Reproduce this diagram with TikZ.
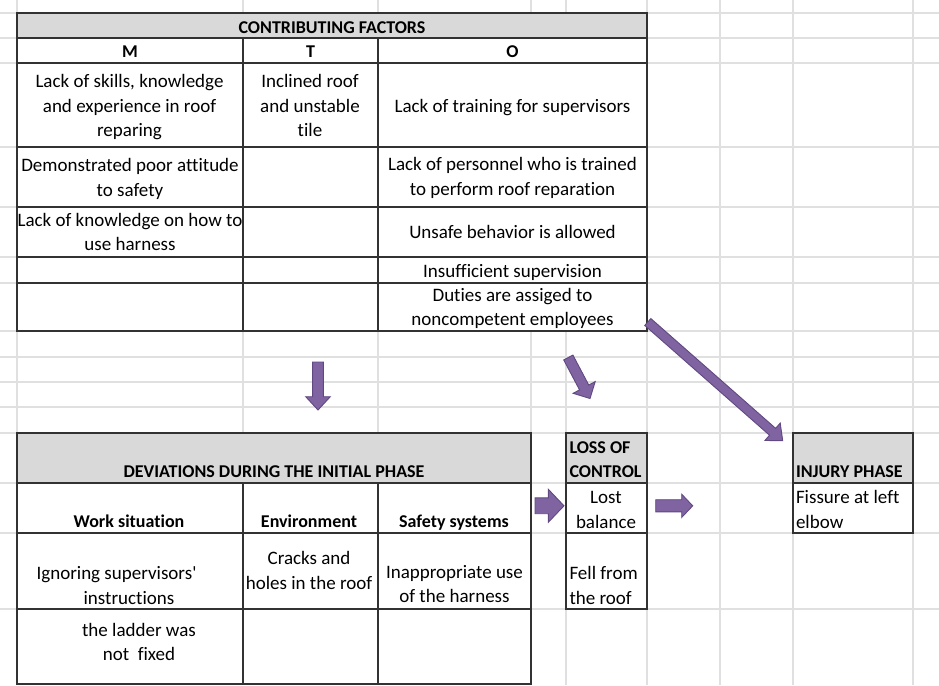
\documentclass[tikz,border=0pt]{standalone}
\usepackage{fontspec}
\setmainfont{Carlito}[Ligatures={TeXOff,NoCommon}]
\usetikzlibrary{calc}

\definecolor{gridgray}{RGB}{224,224,224}
\definecolor{rulegray}{RGB}{50,50,50}
\definecolor{headfill}{RGB}{217,217,217}
\definecolor{arrowfill}{RGB}{128,100,162}
\definecolor{arrowline}{RGB}{96,72,128}

% strut giving every text line the same height and depth
\newcommand\cellstrut{\rule[-7.5pt]{0pt}{24.5pt}}

% block arrow: #1 tail, #2 tip, #3 half shaft width, #4 half head width, #5 head length
\newcommand\blockarrow[5]{%
  \coordinate (#1-neck) at ($(#2)!#5!(#1)$);
  \path[blockarrow]
    ($(#1)!#3!90:(#2)$) -- ($(#1-neck)!#3!90:(#2)$) -- ($(#1-neck)!#4!90:(#2)$)
    -- (#2)
    -- ($(#1-neck)!#4!-90:(#2)$) -- ($(#1-neck)!#3!-90:(#2)$) -- ($(#1)!#3!-90:(#2)$)
    -- cycle;
}

\tikzset{
  every node/.style={inner sep=0pt, outer sep=0pt, text=black},
  cell/.style={font=\fontsize{19}{24.5}\selectfont, align=center,
    execute at begin node=\cellstrut, execute at end node=\cellstrut},
  cellL/.style={cell, align=left, anchor=west},
  head/.style={cell, font=\fontsize{18}{24.5}\selectfont\bfseries},
  headL/.style={head, align=left, anchor=west},
  gridline/.style={draw=gridgray, line width=1.4pt},
  border/.style={draw=rulegray, line width=1.6pt},
  blockarrow/.style={fill=arrowfill, draw=arrowline, line width=0.9pt, line join=miter},
}

\begin{document}
\begin{tikzpicture}[x={(1pt,0)}, y={(0,-1pt)}]
\useasboundingbox (0,0) rectangle (939,685);
\fill[white] (0,0) rectangle (939,685);

% spreadsheet grid
\foreach \gx in {17,243,378,531,566,647,720,793,913}
  \draw[gridline] (\gx,0) -- (\gx,685);
\foreach \gy in {13,38,63,147,207,257,283,331,357,382,407,433,483,533,609}
  \draw[gridline] (0,\gy) -- (939,\gy);

% ---- contributing factors table ----
\fill[white] (17,13) rectangle (647,331);
\fill[headfill] (17,13) rectangle (647,38);
\draw[border] (17,13) rectangle (647,331);
\foreach \ry in {38,63,147,207,257,283}
  \draw[border] (17,\ry) -- (647,\ry);
\foreach \cx in {243,378}
  \draw[border] (\cx,38) -- (\cx,331);

\node[head] (cfTitle) at (332,28.5) {CONTRIBUTING FACTORS};
\node[head] (colM) at (130,53) {M};
\node[head] (colT) at (310.5,53) {T};
\node[head] (colO) at (512.5,53) {O};
\node[cell] (m1) at (129.5,109.5) {Lack of skills, knowledge\\and experience in roof\\reparing};
\node[cell] (t1) at (310,109.5) {Inclined roof\\and unstable\\tile};
\node[cell] (o1) at (512.5,108) {Lack of training for supervisors};
\node[cell] (m2) at (130,181) {Demonstrated poor attitude\\to safety};
\node[cell] (o2) at (512.5,180) {Lack of personnel who is trained\\to perform roof reparation};
\node[cell] (m3) at (130,235.5) {Lack of knowledge on how to\\use harness};
\node[cell] (o3) at (512.5,234) {Unsafe behavior is allowed};
\node[cell] (o4) at (512.5,273) {Insufficient supervision};
\node[cell] (o5) at (512.5,310.5) {Duties are assiged to\\noncompetent employees};

% ---- deviations table ----
\fill[white] (17,433) rectangle (531,684);
\fill[headfill] (17,433) rectangle (531,483);
\draw[border] (17,433) rectangle (531,684);
\foreach \ry in {483,533,609}
  \draw[border] (17,\ry) -- (531,\ry);
\foreach \cx in {243,378}
  \draw[border] (\cx,483) -- (\cx,684);

\node[head] (devTitle) at (274,473) {DEVIATIONS DURING THE INITIAL PHASE};
\node[head] (devWork) at (129,523) {Work situation};
\node[head] (devEnv) at (309,523) {Environment};
\node[head] (devSafe) at (454,523) {Safety systems};
\node[cell] (work1a) at (116.5,574.5) {Ignoring supervisors'};
\node[cell] (work1b) at (129,600) {instructions};
\node[cell] (env1) at (309,574) {Cracks and\\holes in the roof};
\node[cell] (safe1) at (454.5,587.5) {Inappropriate use\\of the harness};
\node[cell] (work2) at (139,645.5) {the ladder was\\not\ \ fixed};

% ---- loss of control ----
\fill[white] (566,433) rectangle (647,609);
\fill[headfill] (566,433) rectangle (647,483);
\draw[border] (566,433) rectangle (647,609);
\foreach \ry in {483,533}
  \draw[border] (566,\ry) -- (647,\ry);

\node[headL] (lossTitle) at (569.5,463.5) {LOSS OF\\CONTROL};
\node[cell] (loss1) at (606,513.5) {Lost\\balance};
\node[cellL] (loss2) at (569.5,589) {Fell from\\the roof};

% ---- injury phase ----
\fill[white] (793,433) rectangle (913,533);
\fill[headfill] (793,433) rectangle (913,483);
\draw[border] (793,433) rectangle (913,533);
\draw[border] (793,483) -- (913,483);

\node[headL] (injTitle) at (796,473) {INJURY PHASE};
\node[cellL] (inj1) at (796,513) {Fissure at left\\elbow};

% ---- block arrows ----
\coordinate (dnTail) at (318,362);
\coordinate (dnTip) at (318,410);
\blockarrow{dnTail}{dnTip}{5.4pt}{12.3pt}{13.3pt}

\coordinate (sdTail) at (568.3,357.5);
\coordinate (sdTip) at (590,398.5);
\blockarrow{sdTail}{sdTip}{5.2pt}{12.5pt}{12.5pt}

\coordinate (ldTail) at (647.8,322);
\coordinate (ldTip) at (782.7,440.7);
\blockarrow{ldTail}{ldTip}{4.6pt}{11.6pt}{13.5pt}

\coordinate (r1Tail) at (535,505.8);
\coordinate (r1Tip) at (564,505.8);
\blockarrow{r1Tail}{r1Tip}{7.9pt}{16.5pt}{15.7pt}

\coordinate (r2Tail) at (655.7,505.8);
\coordinate (r2Tip) at (692.7,505.8);
\blockarrow{r2Tail}{r2Tip}{6.1pt}{11.6pt}{11pt}
\end{tikzpicture}
\end{document}
